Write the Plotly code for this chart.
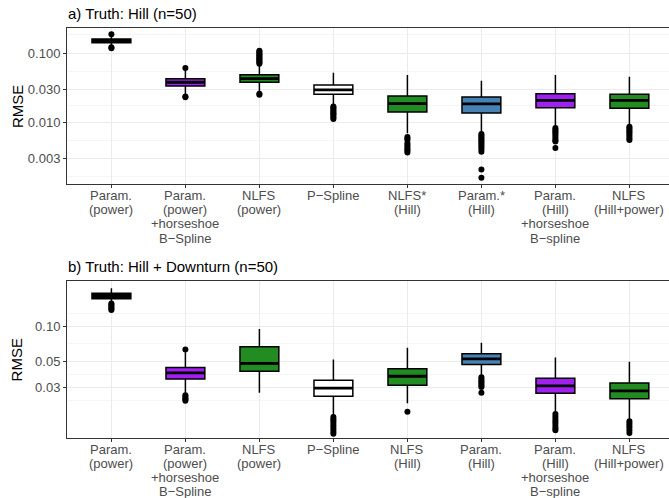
import numpy as np
import plotly.graph_objects as go

# ---------------- data ----------------
cats_a = ["Param.\n(power)", "Param.\n(power)\n+horseshoe\nB\u2212Spline", "NLFS\n(power)", "P\u2212Spline",
          "NLFS*\n(Hill)", "Param.*\n(Hill)", "Param.\n(Hill)\n+horseshoe\nB\u2212spline", "NLFS\n(Hill+power)"]
cats_b = ["Param.\n(power)", "Param.\n(power)\n+horseshoe\nB\u2212Spline", "NLFS\n(power)", "P\u2212Spline",
          "NLFS\n(Hill)", "Param.\n(Hill)", "Param.\n(Hill)\n+horseshoe\nB\u2212spline", "NLFS\n(Hill+power)"]
fills = ["#000000", "#A020F0", "#228B22", "#FFFFFF", "#228B22", "#4682B4", "#A020F0", "#228B22"]

# panel a) Truth: Hill
q1_a = [0.141, 0.0335, 0.0379, 0.0255, 0.0142, 0.0137, 0.0163, 0.0160]
med_a = [0.150, 0.0379, 0.0427, 0.0294, 0.0187, 0.0185, 0.0208, 0.0208]
q3_a = [0.159, 0.0426, 0.0487, 0.0347, 0.0241, 0.0233, 0.0259, 0.0255]
lo_a = [0.126, 0.0249, 0.0275, 0.0178, 0.0070, 0.0072, 0.0089, 0.0095]
hi_a = [0.176, 0.0569, 0.0650, 0.0521, 0.0482, 0.0399, 0.0482, 0.0456]
out_a = [
    [0.186, 0.121, 0.117],
    [0.0608, 0.0236, 0.0231],
    [0.070, 0.073, 0.076, 0.079, 0.082, 0.085, 0.088, 0.092, 0.096, 0.100, 0.104, 0.108, 0.0258, 0.0251],
    [0.0170, 0.0163, 0.0156, 0.0149, 0.0142, 0.0136, 0.0130, 0.0124, 0.0118, 0.0112],
    [0.0062, 0.0059, 0.0056, 0.0050, 0.0047, 0.0044, 0.0041, 0.0039, 0.0037],
    [0.0068, 0.0065, 0.0062, 0.0059, 0.0056, 0.0053, 0.0050, 0.0047, 0.0044, 0.0041, 0.0038, 0.0021, 0.0016],
    [0.0083, 0.0079, 0.0075, 0.0071, 0.0067, 0.0063, 0.0059, 0.0055, 0.0053, 0.0043],
    [0.0087, 0.0083, 0.0079, 0.0075, 0.0071, 0.0067, 0.0063, 0.0059, 0.0056],
]

# panel b) Truth: Hill + Downturn
q1_b = [0.171, 0.0355, 0.0413, 0.0253, 0.0314, 0.0471, 0.0268, 0.0240]
med_b = [0.180, 0.0400, 0.0481, 0.0296, 0.0374, 0.0526, 0.0310, 0.0281]
q3_b = [0.190, 0.0444, 0.0666, 0.0346, 0.0433, 0.0581, 0.0360, 0.0327]
lo_b = [0.160, 0.0268, 0.0270, 0.0174, 0.0220, 0.0382, 0.0185, 0.0161]
hi_b = [0.210, 0.0600, 0.0942, 0.0520, 0.0653, 0.0721, 0.0541, 0.0496]
out_b = [
    [0.156, 0.152, 0.148, 0.144, 0.140, 0.137],
    [0.0633, 0.0258, 0.0250, 0.0243, 0.0237, 0.0231],
    [],
    [0.0168, 0.0162, 0.0156, 0.0150, 0.0144, 0.0138, 0.0132, 0.0126, 0.0121],
    [0.0186],
    [0.0367, 0.0355, 0.0343, 0.0332, 0.0321, 0.0311, 0.0303, 0.0270],
    [0.0178, 0.0170, 0.0162, 0.0155, 0.0148, 0.0141, 0.0135, 0.0130],
    [0.0155, 0.0148, 0.0142, 0.0136, 0.0130, 0.0123],
]

ticks_a = [0.003, 0.01, 0.03, 0.1]
ticklabels_a = ["0.003", "0.010", "0.030", "0.100"]
ticks_b = [0.03, 0.05, 0.1]
ticklabels_b = ["0.03", "0.05", "0.10"]

title_a = "a) Truth: Hill (n=50)"
title_b = "b) Truth: Hill + Downturn (n=50)"

# ---------------- figure ----------------
FONT = "Liberation Sans, Arial, sans-serif"
GRID = "#EBEBEB"
TXT = "#4D4D4D"
DOM_A = [0.619, 1.0]
DOM_B = [0.0, 0.383]
fig = go.Figure()


def add_panel(cats, q1, med, q3, lo, hi, outs, xa, ya):
    for i in range(len(cats)):
        fig.add_trace(go.Box(
            x=[cats[i]], q1=[q1[i]], median=[med[i]], q3=[q3[i]],
            lowerfence=[lo[i]], upperfence=[hi[i]],
            boxpoints=False, fillcolor=fills[i],
            line=dict(color="#000000", width=1.5), whiskerwidth=0,
            xaxis=xa, yaxis=ya, showlegend=False, hoverinfo="skip"))
        # thicker median bar, as ggplot draws it
        fig.add_trace(go.Box(
            x=[cats[i]], q1=[med[i]], median=[med[i]], q3=[med[i]],
            lowerfence=[med[i]], upperfence=[med[i]],
            boxpoints=False, fillcolor="rgba(0,0,0,0)",
            line=dict(color="#000000", width=2.8), whiskerwidth=0,
            xaxis=xa, yaxis=ya, showlegend=False, hoverinfo="skip"))
    xs, ys = [], []
    for i, o in enumerate(outs):
        xs += [cats[i]] * len(o)
        ys += list(o)
    fig.add_trace(go.Scatter(x=xs, y=ys, mode="markers",
                             marker=dict(color="#000000", size=6),
                             xaxis=xa, yaxis=ya, showlegend=False, hoverinfo="skip"))


add_panel(cats_a, q1_a, med_a, q3_a, lo_a, hi_a, out_a, "x", "y")
add_panel(cats_b, q1_b, med_b, q3_b, lo_b, hi_b, out_b, "x2", "y2")


def minor_breaks(b, lims):
    lb = list(np.log10(b))
    bd = lb[1] - lb[0]
    if lims[0] < lb[0]:
        lb = [lb[0] - bd] + lb
    if lims[1] > lb[-1]:
        lb = lb + [lb[-1] + bd]
    mids = [(lb[k] + lb[k + 1]) / 2 for k in range(len(lb) - 1)]
    return [10 ** m for m in mids]


rng_a = [-2.889, -0.640]
rng_b = [-1.953, -0.616]

axis_common = dict(showline=True, linecolor="#333333", linewidth=1,
                   ticks="outside", ticklen=3, tickcolor="#333333", tickwidth=1,
                   showgrid=True, gridcolor=GRID, gridwidth=1, zeroline=False,
                   automargin=False,
                   tickfont=dict(family=FONT, size=13, color=TXT))

# the panel runs a little past the right edge of the picture, as in the reference
x_common = dict(axis_common, type="category", range=[-0.6, 7.535], showticklabels=False,
                mirror=True)
y_common = dict(axis_common, type="log", mirror=False, tickmode="array")

fig.update_layout(
    width=669, height=498,
    margin=dict(l=67, r=0, t=28, b=60),
    paper_bgcolor="white", plot_bgcolor="white",
    boxmode="overlay", boxgap=0.25,
    font=dict(family=FONT, color="#000000"),
    xaxis=dict(x_common, domain=[0, 1], anchor="y", categoryorder="array",
               categoryarray=cats_a),
    yaxis=dict(y_common, domain=DOM_A, anchor="x", range=rng_a,
               tickvals=ticks_a, ticktext=ticklabels_a,
               minor=dict(tickmode="array", tickvals=minor_breaks(ticks_a, rng_a),
                          showgrid=True, gridcolor=GRID, gridwidth=0.5, ticks="")),
    xaxis2=dict(x_common, domain=[0, 1], anchor="y2", categoryorder="array",
                categoryarray=cats_b),
    yaxis2=dict(y_common, domain=DOM_B, anchor="x2", range=rng_b,
                tickvals=ticks_b, ticktext=ticklabels_b,
                minor=dict(tickmode="array", tickvals=minor_breaks(ticks_b, rng_b),
                           showgrid=True, gridcolor=GRID, gridwidth=0.5, ticks="")),
)

ann = []
# category labels, one text per line so the line spacing follows the reference
for cats, xr, dom in [(cats_a, "x", DOM_A), (cats_b, "x2", DOM_B)]:
    for c in cats:
        for j, line in enumerate(c.split("\n")):
            ann.append(dict(text=line, x=c, xref=xr, y=dom[0], yref="paper",
                            xanchor="center", yanchor="middle", yshift=-(11 + 14.3 * j),
                            showarrow=False, font=dict(family=FONT, size=13, color=TXT)))
for t, dom in [(title_a, DOM_A), (title_b, DOM_B)]:
    ann.append(dict(text=t, x=0, y=dom[1], xref="paper", yref="paper", xanchor="left",
                    yanchor="bottom", yshift=4, xshift=-1, showarrow=False,
                    font=dict(family=FONT, size=15, color="#000000")))
for dom in [DOM_A, DOM_B]:
    ann.append(dict(text="RMSE", x=-0.0832, y=(dom[0] + dom[1]) / 2, xref="paper", yref="paper",
                    xanchor="center", yanchor="middle", textangle=-90, showarrow=False,
                    font=dict(family=FONT, size=15, color="#000000")))
fig.update_layout(annotations=ann)

# remove the page's default 8px body margin so the figure fills the window exactly
fig.write_html("out.html", config={"displayModeBar": False, "staticPlot": True},
               post_script="document.body.style.margin='0';")
